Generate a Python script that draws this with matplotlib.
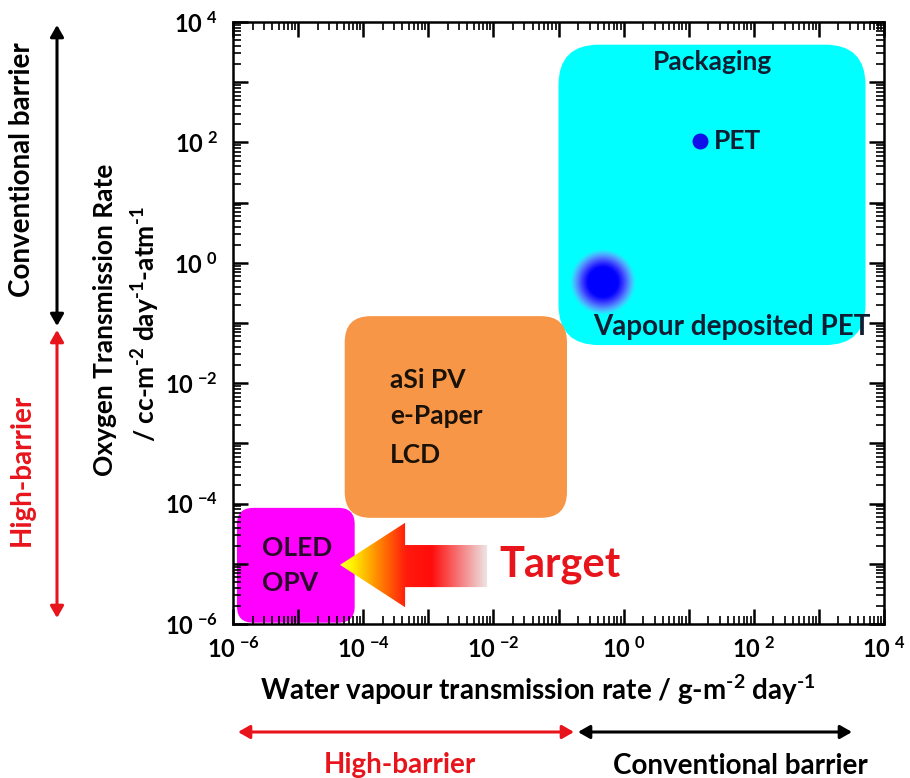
import numpy as np
import matplotlib
matplotlib.use('Agg')
import matplotlib.pyplot as plt
from matplotlib.patches import FancyBboxPatch, Polygon, FancyArrowPatch
from matplotlib.ticker import LogLocator, FuncFormatter, NullFormatter

plt.rcParams['font.family'] = ['Lato', 'DejaVu Sans']
plt.rcParams['font.weight'] = 'bold'
plt.rcParams['axes.labelweight'] = 'bold'
plt.rcParams['mathtext.fontset'] = 'custom'
plt.rcParams['mathtext.rm'] = 'Lato:bold'
plt.rcParams['mathtext.it'] = 'Lato:bold'
plt.rcParams['mathtext.bf'] = 'Lato:bold'

# application regions: (name, colour, wvtr range, otr range)
region_names = ['Packaging', 'aSi PV', 'OLED']
region_colors = ['#00FFFF', '#F79646', '#FF00FF']
region_x = [(1e-1, 5.2e3), (5.2e-5, 1.35e-1), (1.15e-6, 7.4e-5)]
region_y = [(4.3e-2, 4.2e3), (5.8e-5, 1.3e-1), (1.05e-6, 8.5e-5)]
region_round = [0.62, 0.40, 0.25]   # corner size in decades

# materials
pet_x, pet_y = 15, 105
vd_pet_x, vd_pet_y = 0.48, 0.48

# labels inside the plot (x, y)
packaging_pos = (23, 2.2e3)
display_lines = ['aSi PV', 'e-Paper', 'LCD']
display_x = 2.6e-4
display_y = [1.12e-2, 2.8e-3, 6.5e-4]
oled_lines = ['OLED', 'OPV']
oled_x = 2.8e-6
oled_y = [1.8e-5, 4.8e-6]
vd_label_pos = (0.34, 0.085)

# target arrow (tip -> tail) in data units
arrow_tip = (4.4e-5, 9.6e-6)
arrow_base_x = 4.4e-4
arrow_tail_x = 8.0e-3
arrow_head_y = (1.9e-6, 4.8e-5)
arrow_shaft_y = (4.1e-6, 2.05e-5)

xmin, xmax = 1e-6, 1e4
ymin, ymax = 1e-6, 1e4

W, H = 910, 778
fig = plt.figure(figsize=(W / 100, H / 100), dpi=100)
pos = [233 / W, 1 - 624 / H, (884 - 233) / W, (624 - 22) / H]

# background layer (log10 units, linear) for shaded shapes
bg = fig.add_axes(pos, zorder=0)
bg.set_xlim(np.log10(xmin), np.log10(xmax))
bg.set_ylim(np.log10(ymin), np.log10(ymax))
bg.axis('off')

px_per_dec_x = (884 - 233) / 10
px_per_dec_y = (624 - 22) / 10
aspect = px_per_dec_x / px_per_dec_y

for name, col, (x0, x1), (y0, y1), r in zip(region_names, region_colors, region_x, region_y, region_round):
    lx0, lx1 = np.log10(x0), np.log10(x1)
    ly0, ly1 = np.log10(y0), np.log10(y1)
    box = FancyBboxPatch((lx0, ly0), lx1 - lx0, ly1 - ly0,
                         boxstyle='round,pad=0,rounding_size=%f' % r,
                         mutation_aspect=aspect, facecolor=col, edgecolor='none')
    bg.add_patch(box)

# blurred vapour-deposited PET spot
n = 201
gx, gy = np.meshgrid(np.linspace(-1, 1, n), np.linspace(-1, 1, n))
d = np.sqrt(gx ** 2 + gy ** 2)
img = np.zeros((n, n, 4))
t = np.clip((d - 0.45) / 0.55, 0, 1)
img[..., 0] = 0.0 + 0.75 * t
img[..., 1] = 0.0 + 0.55 * t
img[..., 2] = 1.0
img[..., 3] = np.clip(1 - t ** 2.2, 0, 1) * (d <= 1)
rx = 33 / px_per_dec_x
ry = 33 / px_per_dec_y
cx, cy = np.log10(vd_pet_x), np.log10(vd_pet_y)
bg.imshow(img, extent=[cx - rx, cx + rx, cy - ry, cy + ry], aspect='auto',
          interpolation='bilinear', zorder=3)

# gradient "Target" arrow
tx, ty = np.log10(arrow_tip[0]), np.log10(arrow_tip[1])
bx, ex = np.log10(arrow_base_x), np.log10(arrow_tail_x)
hy0, hy1 = np.log10(arrow_head_y[0]), np.log10(arrow_head_y[1])
sy0, sy1 = np.log10(arrow_shaft_y[0]), np.log10(arrow_shaft_y[1])
verts = [(tx, ty), (bx, hy1), (bx, sy1), (ex, sy1), (ex, sy0), (bx, sy0), (bx, hy0)]
arrow = Polygon(verts, closed=True, facecolor='none', edgecolor='none')
bg.add_patch(arrow)
stops = [0.0, 0.08, 0.25, 0.45, 0.62, 1.0]
stop_cols = np.array([[1, 1, 0.2], [1, 0.95, 0.0], [1, 0.55, 0.0], [1, 0.1, 0.05],
                      [1, 0.05, 0.05], [0.93, 0.91, 0.91]])
f = np.linspace(0, 1, 300)
grad = np.stack([np.interp(f, stops, stop_cols[:, k]) for k in range(3)], axis=-1)[None, :, :]
im = bg.imshow(grad, extent=[tx, ex, hy0, hy1], aspect='auto', interpolation='bilinear', zorder=4)
im.set_clip_path(arrow)
bg.set_xlim(np.log10(xmin), np.log10(xmax))
bg.set_ylim(np.log10(ymin), np.log10(ymax))

# main log-log axes on top
ax = fig.add_axes(pos, zorder=1)
ax.set_facecolor('none')
ax.set_xscale('log')
ax.set_yscale('log')
ax.set_xlim(xmin, xmax)
ax.set_ylim(ymin, ymax)


def dec_label(v, _):
    e = int(round(np.log10(v)))
    if e % 2:
        return ''
    return r'$\mathbf{10}^{\ \mathbf{%d}}$' % e


for a in (ax.xaxis, ax.yaxis):
    a.set_major_locator(LogLocator(base=10, numticks=20))
    a.set_minor_locator(LogLocator(base=10, subs=np.arange(2, 10), numticks=20))
    a.set_major_formatter(FuncFormatter(dec_label))
    a.set_minor_formatter(NullFormatter())
ax.tick_params(which='both', direction='in', top=True, right=True, labelsize=17)
ax.tick_params(which='major', length=11, width=1.8)
ax.tick_params(which='minor', length=6, width=1.2)
ax.tick_params(axis='x', pad=9)
ax.tick_params(axis='y', pad=11)
for s in ax.spines.values():
    s.set_linewidth(1.8)

txt_col = '#0F1E33'
bold = dict(fontweight='bold')
ax.scatter([pet_x], [pet_y], s=110, color='#1010E8', zorder=5)
ax.text(pet_x * 1.65, pet_y, 'PET', fontsize=19, color=txt_col, va='center', ha='left', **bold)
ax.text(packaging_pos[0], packaging_pos[1], 'Packaging', fontsize=19, color=txt_col,
        ha='center', va='center', **bold)
ax.text(vd_label_pos[0], vd_label_pos[1], 'Vapour deposited PET', fontsize=20, color=txt_col,
        ha='left', va='center', **bold)
for s, yv in zip(display_lines, display_y):
    ax.text(display_x, yv, s, fontsize=19, color='#1a1208', ha='left', va='center', **bold)
for s, yv in zip(oled_lines, oled_y):
    ax.text(oled_x, yv, s, fontsize=19, color='#2a0a2a', ha='left', va='center', **bold)
ax.text(1.25e-2, arrow_tip[1], 'Target', fontsize=30, color='#E8141C', ha='left', va='center', **bold)

ax.set_xlabel(r'Water vapour transmission rate / g-m$^{\text{-2}}$ day$^{\text{-1}}$', fontsize=20,
              **bold)
ax.xaxis.set_label_coords((538 - 233) / 651, -(690 - 624) / 602, transform=ax.transAxes)
ax.xaxis.label.set_va('center')
fig.text(105 / W, 1 - 320 / H, 'Oxygen Transmission Rate', rotation=90, fontsize=19,
         ha='center', va='center', **bold)
fig.text(146 / W, 1 - 324 / H, r'/ cc-m$^{\text{-2}}$ day$^{\text{-1}}$-atm$^{\text{-1}}$', rotation=90,
         fontsize=19, ha='center', va='center', **bold)


# barrier classification arrows (figure pixels)
def farrow(x0, y0, x1, y1, col):
    fig.add_artist(FancyArrowPatch(
        (x0 / W, 1 - y0 / H), (x1 / W, 1 - y1 / H), transform=fig.transFigure,
        arrowstyle='<|-|>,head_length=7,head_width=4', color=col, lw=2.2,
        shrinkA=0, shrinkB=0))


farrow(57, 25, 57, 326, 'black')
farrow(57, 330, 57, 618, '#E8141C')
farrow(238, 732, 574, 732, '#E8141C')
farrow(578, 732, 852, 732, 'black')

fig.text(22 / W, 1 - 170 / H, 'Conventional barrier', rotation=90, fontsize=20,
         ha='center', va='center', **bold)
fig.text(22 / W, 1 - 470 / H, 'High-barrier', rotation=90, fontsize=20, color='#E8141C',
         ha='center', va='center', **bold)
fig.text(400 / W, 1 - 765 / H, 'High-barrier', fontsize=20, color='#E8141C',
         ha='center', va='center', **bold)
fig.text(740 / W, 1 - 766 / H, 'Conventional barrier', fontsize=20,
         ha='center', va='center', **bold)

fig.savefig('out.png', dpi=100)
